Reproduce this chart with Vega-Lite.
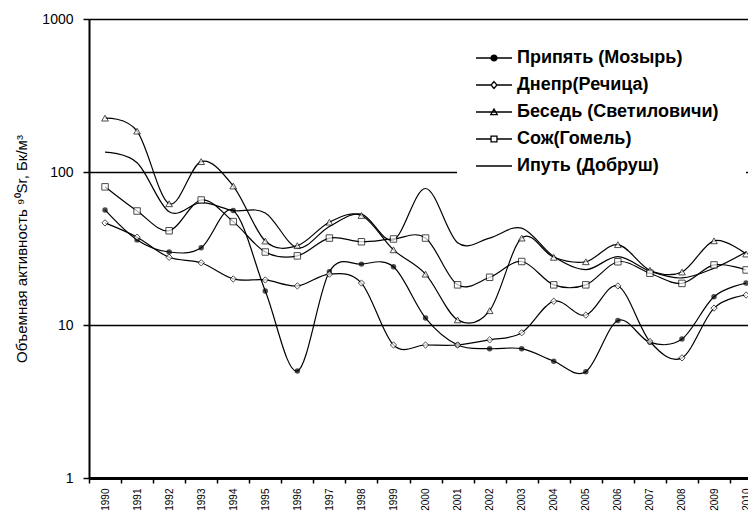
{
  "$schema": "https://vega.github.io/schema/vega-lite/v6.json",
  "width": 659,
  "height": 459,
  "autosize": "none",
  "padding": {"left": 89, "top": 19, "right": 0, "bottom": 38},
  "background": "white",
  "config": {
    "view": {"stroke": null},
    "font": "Liberation Sans",
    "axis": {"labelFont": "Liberation Sans", "titleFont": "Liberation Sans", "labelColor": "black", "titleColor": "black"}
  },
  "data": {
    "values": [
      {"year": 1990, "river": "Припять (Мозырь)", "v": 56.5},
      {"year": 1991, "river": "Припять (Мозырь)", "v": 36},
      {"year": 1992, "river": "Припять (Мозырь)", "v": 30},
      {"year": 1993, "river": "Припять (Мозырь)", "v": 32},
      {"year": 1994, "river": "Припять (Мозырь)", "v": 56},
      {"year": 1995, "river": "Припять (Мозырь)", "v": 16.7},
      {"year": 1996, "river": "Припять (Мозырь)", "v": 5.0},
      {"year": 1997, "river": "Припять (Мозырь)", "v": 22.3},
      {"year": 1998, "river": "Припять (Мозырь)", "v": 25},
      {"year": 1999, "river": "Припять (Мозырь)", "v": 24},
      {"year": 2000, "river": "Припять (Мозырь)", "v": 11.1},
      {"year": 2001, "river": "Припять (Мозырь)", "v": 7.4},
      {"year": 2002, "river": "Припять (Мозырь)", "v": 7.0},
      {"year": 2003, "river": "Припять (Мозырь)", "v": 7.0},
      {"year": 2004, "river": "Припять (Мозырь)", "v": 5.8},
      {"year": 2005, "river": "Припять (Мозырь)", "v": 4.95},
      {"year": 2006, "river": "Припять (Мозырь)", "v": 10.7},
      {"year": 2007, "river": "Припять (Мозырь)", "v": 7.7},
      {"year": 2008, "river": "Припять (Мозырь)", "v": 8.1},
      {"year": 2009, "river": "Припять (Мозырь)", "v": 15.3},
      {"year": 2010, "river": "Припять (Мозырь)", "v": 18.8},
      {"year": 1990, "river": "Днепр(Речица)", "v": 46.5},
      {"year": 1991, "river": "Днепр(Речица)", "v": 37.5},
      {"year": 1992, "river": "Днепр(Речица)", "v": 27.7},
      {"year": 1993, "river": "Днепр(Речица)", "v": 25.5},
      {"year": 1994, "river": "Днепр(Речица)", "v": 20},
      {"year": 1995, "river": "Днепр(Речица)", "v": 19.7},
      {"year": 1996, "river": "Днепр(Речица)", "v": 18},
      {"year": 1997, "river": "Днепр(Речица)", "v": 21.5},
      {"year": 1998, "river": "Днепр(Речица)", "v": 18.8},
      {"year": 1999, "river": "Днепр(Речица)", "v": 7.4},
      {"year": 2000, "river": "Днепр(Речица)", "v": 7.4},
      {"year": 2001, "river": "Днепр(Речица)", "v": 7.4},
      {"year": 2002, "river": "Днепр(Речица)", "v": 8.0},
      {"year": 2003, "river": "Днепр(Речица)", "v": 8.9},
      {"year": 2004, "river": "Днепр(Речица)", "v": 14.3},
      {"year": 2005, "river": "Днепр(Речица)", "v": 11.6},
      {"year": 2006, "river": "Днепр(Речица)", "v": 18},
      {"year": 2007, "river": "Днепр(Речица)", "v": 7.8},
      {"year": 2008, "river": "Днепр(Речица)", "v": 6.1},
      {"year": 2009, "river": "Днепр(Речица)", "v": 12.9},
      {"year": 2010, "river": "Днепр(Речица)", "v": 15.7},
      {"year": 1990, "river": "Беседь (Светиловичи)", "v": 225},
      {"year": 1991, "river": "Беседь (Светиловичи)", "v": 185},
      {"year": 1992, "river": "Беседь (Светиловичи)", "v": 62},
      {"year": 1993, "river": "Беседь (Светиловичи)", "v": 117},
      {"year": 1994, "river": "Беседь (Светиловичи)", "v": 81},
      {"year": 1995, "river": "Беседь (Светиловичи)", "v": 35.4},
      {"year": 1996, "river": "Беседь (Светиловичи)", "v": 33},
      {"year": 1997, "river": "Беседь (Светиловичи)", "v": 47},
      {"year": 1998, "river": "Беседь (Светиловичи)", "v": 52},
      {"year": 1999, "river": "Беседь (Светиловичи)", "v": 31},
      {"year": 2000, "river": "Беседь (Светиловичи)", "v": 21.5},
      {"year": 2001, "river": "Беседь (Светиловичи)", "v": 10.8},
      {"year": 2002, "river": "Беседь (Светиловичи)", "v": 12.4},
      {"year": 2003, "river": "Беседь (Светиловичи)", "v": 37},
      {"year": 2004, "river": "Беседь (Светиловичи)", "v": 27.7},
      {"year": 2005, "river": "Беседь (Светиловичи)", "v": 25.9},
      {"year": 2006, "river": "Беседь (Светиловичи)", "v": 33.5},
      {"year": 2007, "river": "Беседь (Светиловичи)", "v": 22.8},
      {"year": 2008, "river": "Беседь (Светиловичи)", "v": 22.2},
      {"year": 2009, "river": "Беседь (Светиловичи)", "v": 35.5},
      {"year": 2010, "river": "Беседь (Светиловичи)", "v": 29.1},
      {"year": 1990, "river": "Сож(Гомель)", "v": 80},
      {"year": 1991, "river": "Сож(Гомель)", "v": 55.6},
      {"year": 1992, "river": "Сож(Гомель)", "v": 41.3},
      {"year": 1993, "river": "Сож(Гомель)", "v": 65.6},
      {"year": 1994, "river": "Сож(Гомель)", "v": 47.4},
      {"year": 1995, "river": "Сож(Гомель)", "v": 30},
      {"year": 1996, "river": "Сож(Гомель)", "v": 28.3},
      {"year": 1997, "river": "Сож(Гомель)", "v": 37},
      {"year": 1998, "river": "Сож(Гомель)", "v": 35},
      {"year": 1999, "river": "Сож(Гомель)", "v": 36.5},
      {"year": 2000, "river": "Сож(Гомель)", "v": 37},
      {"year": 2001, "river": "Сож(Гомель)", "v": 18.3},
      {"year": 2002, "river": "Сож(Гомель)", "v": 20.5},
      {"year": 2003, "river": "Сож(Гомель)", "v": 26},
      {"year": 2004, "river": "Сож(Гомель)", "v": 18.3},
      {"year": 2005, "river": "Сож(Гомель)", "v": 18.3},
      {"year": 2006, "river": "Сож(Гомель)", "v": 25.9},
      {"year": 2007, "river": "Сож(Гомель)", "v": 21.8},
      {"year": 2008, "river": "Сож(Гомель)", "v": 18.7},
      {"year": 2009, "river": "Сож(Гомель)", "v": 24.7},
      {"year": 2010, "river": "Сож(Гомель)", "v": 22.9},
      {"year": 1990, "river": "Ипуть (Добруш)", "v": 135},
      {"year": 1991, "river": "Ипуть (Добруш)", "v": 115},
      {"year": 1992, "river": "Ипуть (Добруш)", "v": 55},
      {"year": 1993, "river": "Ипуть (Добруш)", "v": 63},
      {"year": 1994, "river": "Ипуть (Добруш)", "v": 56},
      {"year": 1995, "river": "Ипуть (Добруш)", "v": 54},
      {"year": 1996, "river": "Ипуть (Добруш)", "v": 32},
      {"year": 1997, "river": "Ипуть (Добруш)", "v": 44},
      {"year": 1998, "river": "Ипуть (Добруш)", "v": 53},
      {"year": 1999, "river": "Ипуть (Добруш)", "v": 36},
      {"year": 2000, "river": "Ипуть (Добруш)", "v": 78},
      {"year": 2001, "river": "Ипуть (Добруш)", "v": 34.5},
      {"year": 2002, "river": "Ипуть (Добруш)", "v": 37},
      {"year": 2003, "river": "Ипуть (Добруш)", "v": 43},
      {"year": 2004, "river": "Ипуть (Добруш)", "v": 28},
      {"year": 2005, "river": "Ипуть (Добруш)", "v": 23},
      {"year": 2006, "river": "Ипуть (Добруш)", "v": 28},
      {"year": 2007, "river": "Ипуть (Добруш)", "v": 22.5},
      {"year": 2008, "river": "Ипуть (Добруш)", "v": 20.3},
      {"year": 2009, "river": "Ипуть (Добруш)", "v": 23.5},
      {"year": 2010, "river": "Ипуть (Добруш)", "v": 30}
    ]
  },
  "encoding": {
    "x": {
      "field": "year", "type": "quantitative",
      "scale": {"domain": [1989.5, 2010.06], "nice": false, "zero": false},
      "axis": {
        "orient": "bottom", "title": null, "grid": false,
        "values": [1990, 1991, 1992, 1993, 1994, 1995, 1996, 1997, 1998, 1999, 2000, 2001, 2002, 2003, 2004, 2005, 2006, 2007, 2008, 2009, 2010],
        "format": "d", "labelAngle": -90, "labelFontSize": 10, "labelPadding": 5,
        "labelFlush": false, "labelOverlap": false,
        "tickOffset": -16, "labelOffset": 16,
        "ticks": true, "tickSize": 5, "tickWidth": 1.5, "tickColor": "black",
        "domain": true, "domainWidth": 3, "domainColor": "black"
      }
    },
    "y": {
      "field": "v", "type": "quantitative",
      "scale": {"type": "log", "domain": [1, 1000], "nice": false},
      "axis": {
        "title": "Объемная активность ⁹⁰Sr, Бк/м³",
        "titleFontSize": 15, "titleFontWeight": "normal", "titlePadding": 12,
        "values": [1, 10, 100, 1000], "format": "d",
        "labelFontSize": 14, "labelPadding": 10, "labelFlush": false,
        "grid": true, "gridColor": "black", "gridWidth": 1.5, "gridOpacity": 1,
        "ticks": true, "tickSize": 6, "tickWidth": 1.5, "tickColor": "black",
        "domain": true, "domainWidth": 2, "domainColor": "black"
      }
    }
  },
  "layer": [
    {
      "mark": {"type": "line", "interpolate": "cardinal", "color": "black", "strokeWidth": 1.2},
      "encoding": {"detail": {"field": "river"}}
    },
    {
      "transform": [{"filter": "datum.river === 'Припять (Мозырь)'"}],
      "mark": {"type": "point", "shape": "circle", "filled": true, "color": "black", "size": 30},
      "encoding": {}
    },
    {
      "transform": [{"filter": "datum.river === 'Днепр(Речица)'"}],
      "mark": {"type": "point", "shape": "diamond", "filled": true, "fill": "white", "stroke": "black", "strokeWidth": 1, "size": 40},
      "encoding": {}
    },
    {
      "transform": [{"filter": "datum.river === 'Беседь (Светиловичи)'"}],
      "mark": {"type": "point", "shape": "triangle-up", "filled": true, "fill": "white", "stroke": "black", "strokeWidth": 1, "size": 45},
      "encoding": {}
    },
    {
      "transform": [{"filter": "datum.river === 'Сож(Гомель)'"}],
      "mark": {"type": "point", "shape": "square", "filled": true, "fill": "white", "stroke": "black", "strokeWidth": 1, "size": 42},
      "encoding": {}
    },
    {
      "mark": {"type": "point", "filled": true, "size": 0, "stroke": "black", "strokeWidth": 1.3},
      "encoding": {
        "shape": {
          "field": "river", "type": "nominal",
          "scale": {
            "domain": ["Припять (Мозырь)", "Днепр(Речица)", "Беседь (Светиловичи)", "Сож(Гомель)", "Ипуть (Добруш)"],
            "range": [
              "M-2,0H2M0.33,0A0.33,0.33,0,1,1,-0.33,0A0.33,0.33,0,1,1,0.33,0Z",
              "M-2,0H-0.33M0.33,0H2M0,-0.38L0.33,0L0,0.38L-0.33,0Z",
              "M-2,0H2M0,-0.33L0.36,0.3L-0.36,0.3Z",
              "M-2,0H-0.33M0.33,0H2M-0.33,-0.33H0.33V0.33H-0.33Z",
              "M-2,0H2"
            ]
          },
          "legend": {
            "orient": "none", "legendX": 368, "legendY": 2, "title": null,
            "padding": 27, "fillColor": "white", "strokeColor": null,
            "symbolSize": 324, "symbolStrokeWidth": 1.3, "symbolOpacity": 1,
            "labelFont": "Liberation Sans", "labelFontSize": 18, "labelFontWeight": "bold",
            "labelColor": "black", "labelOffset": 13, "rowPadding": 8, "labelLimit": 400
          }
        },
        "fill": {
          "field": "river", "type": "nominal",
          "scale": {
            "domain": ["Припять (Мозырь)", "Днепр(Речица)", "Беседь (Светиловичи)", "Сож(Гомель)", "Ипуть (Добруш)"],
            "range": ["black", "white", "white", "white", "white"]
          },
          "legend": {
            "orient": "none", "legendX": 368, "legendY": 2, "title": null,
            "padding": 27, "fillColor": "white", "strokeColor": null,
            "symbolSize": 324, "symbolStrokeWidth": 1.3, "symbolOpacity": 1,
            "labelFont": "Liberation Sans", "labelFontSize": 18, "labelFontWeight": "bold",
            "labelColor": "black", "labelOffset": 13, "rowPadding": 8, "labelLimit": 400
          }
        }
      }
    }
  ]
}
